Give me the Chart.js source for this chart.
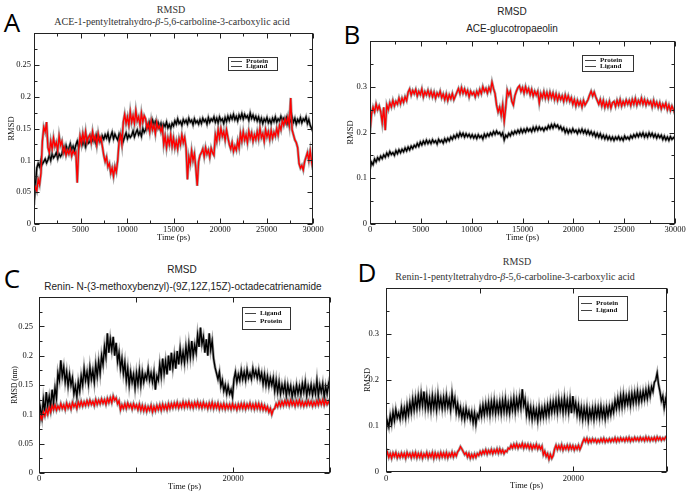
<!DOCTYPE html>
<html>
<head>
<meta charset="utf-8">
<script src="https://cdn.jsdelivr.net/npm/chart.js@4.4.1/dist/chart.umd.min.js"></script>
<style>
  body { margin: 0; background: #fff; }
  #page { position: relative; width: 687px; height: 492px; overflow: hidden; }
  canvas { position: absolute; }
  .txt { position: absolute; transform: translate(-50%, -50%); white-space: nowrap; line-height: 1; }
  .serif { font-family: "Liberation Serif", serif; color: #333; font-size: 10px; }
  .sans { font-family: "Liberation Sans", sans-serif; color: #222; font-size: 10px; }
  .letter { font-family: "Open Sans", sans-serif; font-size: 26px; color: #000; }
</style>
</head>
<body>
<div id="page">
  <div class="txt letter" style="left:12px;top:22px">A</div>
  <div class="txt letter" style="left:352px;top:34px">B</div>
  <div class="txt letter" style="left:12px;top:278px">C</div>
  <div class="txt letter" style="left:367px;top:272px">D</div>

  <div class="txt serif" style="left:171px;top:10px">RMSD</div>
  <div class="txt serif" style="left:172px;top:22px">ACE-1-pentyltetrahydro-<i>β</i>-5,6-carboline-3-carboxylic acid</div>
  <div class="txt sans" style="left:512px;top:12px">RMSD</div>
  <div class="txt sans" style="left:512px;top:29px">ACE-glucotropaeolin</div>
  <div class="txt sans" style="left:182px;top:270px">RMSD</div>
  <div class="txt sans" style="left:183px;top:287px">Renin- N-(3-methoxybenzyl)-(9Z,12Z,15Z)-octadecatrienamide</div>
  <div class="txt serif" style="left:517px;top:262px">RMSD</div>
  <div class="txt serif" style="left:515px;top:277px">Renin-1-pentyltetrahydro-<i>β</i>-5,6-carboline-3-carboxylic acid</div>

  <canvas id="chartA" width="340" height="245" style="left:0;top:0"></canvas>
  <canvas id="chartB" width="342" height="245" style="left:345px;top:0"></canvas>
  <canvas id="chartC" width="340" height="242" style="left:0;top:250px"></canvas>
  <canvas id="chartD" width="342" height="242" style="left:345px;top:250px"></canvas>
</div>
<script>
// RMSD (nm), one value every 150 ps from 0 to 30000 ps (10 values per row = 1500 ps)
const proteinA = [
  0.03, 0.06, 0.088, 0.095, 0.09, 0.1, 0.094, 0.098, 0.102, 0.096,
  0.101, 0.108, 0.1, 0.11, 0.104, 0.107, 0.112, 0.103, 0.11, 0.106,
  0.11, 0.12, 0.114, 0.123, 0.115, 0.119, 0.126, 0.117, 0.122, 0.115,
  0.124, 0.13, 0.121, 0.128, 0.133, 0.125, 0.131, 0.122, 0.134, 0.127,
  0.129, 0.137, 0.131, 0.135, 0.128, 0.139, 0.132, 0.136, 0.13, 0.138,
  0.133, 0.14, 0.135, 0.142, 0.131, 0.138, 0.144, 0.134, 0.141, 0.136,
  0.132, 0.141, 0.135, 0.139, 0.13, 0.137, 0.143, 0.134, 0.14, 0.136,
  0.139, 0.146, 0.137, 0.143, 0.148, 0.14, 0.145, 0.138, 0.15, 0.144,
  0.148, 0.156, 0.151, 0.16, 0.154, 0.163, 0.156, 0.161, 0.153, 0.159,
  0.152, 0.158, 0.149, 0.157, 0.153, 0.16, 0.151, 0.156, 0.15, 0.158,
  0.154, 0.162, 0.157, 0.165, 0.158, 0.161, 0.155, 0.164, 0.159, 0.163,
  0.157, 0.166, 0.16, 0.163, 0.156, 0.165, 0.159, 0.162, 0.157, 0.164,
  0.158, 0.166, 0.161, 0.164, 0.157, 0.167, 0.16, 0.165, 0.162, 0.168,
  0.16, 0.166, 0.159, 0.168, 0.162, 0.165, 0.158, 0.167, 0.161, 0.169,
  0.163, 0.17, 0.165, 0.172, 0.164, 0.169, 0.162, 0.171, 0.166, 0.173,
  0.165, 0.172, 0.167, 0.17, 0.163, 0.174, 0.166, 0.171, 0.164, 0.169,
  0.162, 0.168, 0.16, 0.166, 0.158, 0.165, 0.161, 0.167, 0.159, 0.164,
  0.158, 0.166, 0.161, 0.168, 0.16, 0.165, 0.162, 0.169, 0.163, 0.166,
  0.16, 0.167, 0.158, 0.165, 0.161, 0.168, 0.16, 0.166, 0.157, 0.164,
  0.16, 0.167, 0.159, 0.165, 0.162, 0.168, 0.158, 0.164, 0.155, 0.15,
  0.145
];
const ligandA = [
  0.05, 0.058, 0.052, 0.07, 0.062, 0.08, 0.13, 0.152, 0.145, 0.16,
  0.12, 0.112, 0.13, 0.118, 0.135, 0.122, 0.128, 0.115, 0.138, 0.124,
  0.13, 0.112, 0.12, 0.108, 0.116, 0.11, 0.118, 0.107, 0.115, 0.11,
  0.113, 0.065, 0.118, 0.138, 0.126, 0.142, 0.13, 0.145, 0.128, 0.136,
  0.14, 0.128, 0.145, 0.132, 0.138, 0.124, 0.142, 0.13, 0.136, 0.122,
  0.108, 0.098, 0.105, 0.09, 0.095, 0.08, 0.088, 0.075, 0.09, 0.082,
  0.1, 0.13, 0.14, 0.125, 0.16, 0.172, 0.158, 0.168, 0.155, 0.176,
  0.16, 0.17, 0.158, 0.178, 0.162, 0.168, 0.155, 0.174, 0.16, 0.17,
  0.165, 0.15, 0.158, 0.145, 0.162, 0.148, 0.155, 0.142, 0.16, 0.15,
  0.154, 0.145, 0.152, 0.125, 0.138, 0.12, 0.135, 0.125, 0.14, 0.122,
  0.135, 0.12, 0.13, 0.118, 0.134, 0.125, 0.14, 0.128, 0.136, 0.12,
  0.07, 0.105, 0.095, 0.115, 0.1, 0.11, 0.088, 0.06, 0.098, 0.108,
  0.112, 0.118, 0.106, 0.12, 0.11, 0.116, 0.105, 0.119, 0.112, 0.108,
  0.14, 0.13, 0.148, 0.135, 0.15, 0.138, 0.145, 0.132, 0.148, 0.136,
  0.125, 0.118, 0.128, 0.114, 0.122, 0.116, 0.13, 0.12, 0.142, 0.13,
  0.145, 0.132, 0.14, 0.128, 0.146, 0.135, 0.143, 0.13, 0.14, 0.133,
  0.145, 0.134, 0.15, 0.136, 0.142, 0.13, 0.148, 0.137, 0.145, 0.133,
  0.147, 0.135, 0.144, 0.138, 0.15, 0.14, 0.155, 0.148, 0.162, 0.155,
  0.165, 0.158, 0.168, 0.155, 0.198, 0.148, 0.14, 0.132, 0.128, 0.12,
  0.095, 0.088, 0.092, 0.085, 0.098, 0.105, 0.112, 0.1, 0.115, 0.098,
  0.085
];
const proteinB = [
  0.12, 0.135, 0.13, 0.142, 0.136, 0.145, 0.14, 0.148, 0.143, 0.151,
  0.146, 0.155, 0.149, 0.158, 0.152, 0.156, 0.15, 0.16, 0.154, 0.162,
  0.156, 0.163, 0.158, 0.166, 0.16, 0.168, 0.162, 0.17, 0.165, 0.172,
  0.168, 0.176, 0.17, 0.179, 0.173, 0.181, 0.175, 0.183, 0.176, 0.182,
  0.176, 0.184, 0.178, 0.182, 0.175, 0.185, 0.179, 0.183, 0.177, 0.186,
  0.18, 0.187, 0.182, 0.19, 0.185, 0.193, 0.188, 0.196, 0.19, 0.199,
  0.192, 0.198, 0.19, 0.197, 0.191, 0.196, 0.189, 0.195, 0.188, 0.194,
  0.187, 0.195, 0.189, 0.193, 0.186, 0.196, 0.19, 0.197, 0.192, 0.199,
  0.194, 0.202, 0.196, 0.203, 0.197, 0.2, 0.193, 0.199, 0.184, 0.194,
  0.19, 0.198, 0.193, 0.201, 0.196, 0.203, 0.198, 0.205, 0.199, 0.207,
  0.2, 0.207, 0.201, 0.209, 0.203, 0.208, 0.202, 0.211, 0.204, 0.212,
  0.205, 0.212, 0.206, 0.21, 0.204, 0.211, 0.207, 0.215, 0.209, 0.217,
  0.21, 0.218, 0.212, 0.216, 0.208, 0.213, 0.205, 0.21, 0.2, 0.207,
  0.199, 0.206, 0.2, 0.208, 0.201, 0.205, 0.198, 0.206, 0.2, 0.207,
  0.199, 0.205, 0.197, 0.204, 0.196, 0.202, 0.194, 0.2, 0.191, 0.198,
  0.19, 0.197, 0.188, 0.194, 0.186, 0.193, 0.185, 0.191, 0.184, 0.19,
  0.183, 0.19, 0.185, 0.191, 0.184, 0.189, 0.183, 0.192, 0.186, 0.19,
  0.185, 0.193, 0.188, 0.195, 0.19, 0.197, 0.191, 0.198, 0.192, 0.199,
  0.19, 0.197, 0.19, 0.199, 0.192, 0.198, 0.19, 0.196, 0.188, 0.195,
  0.189, 0.194, 0.185, 0.192, 0.184, 0.19, 0.183, 0.191, 0.185, 0.189,
  0.186
];
const ligandB = [
  0.2, 0.24, 0.255, 0.245, 0.262, 0.25, 0.258, 0.246, 0.222, 0.255,
  0.205, 0.26, 0.25, 0.265, 0.256, 0.27, 0.258, 0.268, 0.262, 0.275,
  0.263, 0.275, 0.266, 0.278, 0.27, 0.288, 0.295, 0.282, 0.292, 0.285,
  0.294, 0.28, 0.29, 0.283, 0.295, 0.278, 0.289, 0.282, 0.292, 0.28,
  0.29, 0.278, 0.288, 0.275, 0.286, 0.28, 0.29, 0.276, 0.284, 0.272,
  0.284, 0.27, 0.282, 0.274, 0.285, 0.272, 0.28, 0.288, 0.296, 0.285,
  0.298, 0.286, 0.295, 0.284, 0.292, 0.278, 0.29, 0.283, 0.288, 0.278,
  0.29, 0.282, 0.294, 0.285, 0.3, 0.29, 0.296, 0.286, 0.298, 0.29,
  0.31, 0.296, 0.285, 0.26, 0.245, 0.255, 0.238, 0.26, 0.225, 0.255,
  0.292, 0.282, 0.29, 0.268, 0.26, 0.28, 0.29, 0.298, 0.302, 0.29,
  0.298, 0.286, 0.3, 0.288, 0.296, 0.283, 0.294, 0.28, 0.29, 0.282,
  0.29, 0.265, 0.285, 0.276, 0.289, 0.275, 0.287, 0.274, 0.288, 0.276,
  0.286, 0.272, 0.284, 0.27, 0.282, 0.272, 0.28, 0.268, 0.282, 0.27,
  0.28, 0.268, 0.276, 0.262, 0.272, 0.258, 0.27, 0.26, 0.268, 0.256,
  0.27, 0.26, 0.266, 0.272, 0.282, 0.29, 0.28, 0.288, 0.278, 0.27,
  0.262, 0.272, 0.258, 0.27, 0.255, 0.266, 0.256, 0.268, 0.254, 0.265,
  0.268, 0.257, 0.27, 0.26, 0.272, 0.258, 0.268, 0.26, 0.271, 0.262,
  0.27, 0.259, 0.272, 0.262, 0.274, 0.26, 0.27, 0.263, 0.275, 0.262,
  0.272, 0.26, 0.27, 0.262, 0.268, 0.256, 0.27, 0.258, 0.266, 0.255,
  0.265, 0.252, 0.262, 0.255, 0.264, 0.25, 0.26, 0.248, 0.258, 0.25,
  0.24
];
const ligandC = [
  0.08, 0.11, 0.095, 0.125, 0.105, 0.138, 0.115, 0.13, 0.112, 0.142,
  0.12, 0.145, 0.128, 0.17, 0.158, 0.192, 0.165, 0.18, 0.155, 0.172,
  0.148, 0.168, 0.15, 0.162, 0.135, 0.148, 0.13, 0.155, 0.14, 0.165,
  0.15, 0.178, 0.158, 0.172, 0.152, 0.18, 0.16, 0.175, 0.155, 0.185,
  0.165, 0.19, 0.17, 0.2, 0.185, 0.215, 0.198, 0.238, 0.205, 0.228,
  0.21, 0.232, 0.2, 0.222, 0.19, 0.205, 0.178, 0.195, 0.17, 0.188,
  0.158, 0.178, 0.15, 0.172, 0.155, 0.168, 0.145, 0.17, 0.152, 0.175,
  0.15, 0.172, 0.155, 0.168, 0.16, 0.178, 0.158, 0.17, 0.155, 0.172,
  0.142, 0.165, 0.158, 0.185, 0.165, 0.195, 0.17, 0.19, 0.168, 0.2,
  0.175, 0.205, 0.18, 0.2, 0.178, 0.208, 0.185, 0.212, 0.19, 0.206,
  0.188, 0.215, 0.195, 0.22, 0.198, 0.225, 0.2, 0.218, 0.205, 0.235,
  0.215, 0.248, 0.22, 0.232, 0.205, 0.228, 0.2, 0.238, 0.21, 0.225,
  0.195, 0.18, 0.17, 0.16, 0.172, 0.148, 0.158, 0.14, 0.15, 0.135,
  0.148, 0.135, 0.142, 0.13, 0.16, 0.172, 0.155, 0.168, 0.158, 0.175,
  0.16, 0.172, 0.158, 0.176, 0.162, 0.17, 0.16, 0.178, 0.165, 0.174,
  0.162, 0.175, 0.16, 0.17, 0.152, 0.168, 0.15, 0.165, 0.148, 0.162,
  0.15, 0.162, 0.14, 0.158, 0.138, 0.155, 0.135, 0.15, 0.138, 0.152,
  0.132, 0.15, 0.136, 0.148, 0.13, 0.145, 0.133, 0.15, 0.135, 0.148,
  0.134, 0.152, 0.138, 0.155, 0.132, 0.148, 0.136, 0.15, 0.133, 0.148,
  0.135, 0.158, 0.132, 0.15, 0.138, 0.152, 0.13, 0.148, 0.135, 0.152,
  0.14
];
const proteinC = [
  0.085, 0.098, 0.092, 0.104, 0.097, 0.108, 0.1, 0.112, 0.104, 0.115,
  0.108, 0.116, 0.107, 0.114, 0.109, 0.118, 0.11, 0.116, 0.108, 0.119,
  0.111, 0.117, 0.109, 0.12, 0.113, 0.118, 0.11, 0.121, 0.114, 0.122,
  0.114, 0.121, 0.115, 0.123, 0.116, 0.124, 0.117, 0.122, 0.115, 0.125,
  0.117, 0.124, 0.118, 0.126, 0.119, 0.125, 0.117, 0.127, 0.12, 0.128,
  0.12, 0.131, 0.124, 0.128, 0.118, 0.123, 0.108, 0.116, 0.11, 0.118,
  0.11, 0.119, 0.112, 0.117, 0.109, 0.118, 0.111, 0.116, 0.108, 0.117,
  0.107, 0.115, 0.106, 0.114, 0.105, 0.113, 0.107, 0.115, 0.104, 0.113,
  0.106, 0.115, 0.108, 0.116, 0.107, 0.117, 0.109, 0.116, 0.108, 0.118,
  0.11, 0.118, 0.111, 0.119, 0.112, 0.12, 0.111, 0.118, 0.112, 0.121,
  0.112, 0.12, 0.113, 0.121, 0.112, 0.119, 0.111, 0.12, 0.113, 0.121,
  0.112, 0.119, 0.111, 0.12, 0.112, 0.118, 0.11, 0.119, 0.111, 0.12,
  0.11, 0.118, 0.111, 0.119, 0.109, 0.117, 0.11, 0.118, 0.109, 0.117,
  0.11, 0.117, 0.109, 0.118, 0.11, 0.116, 0.108, 0.117, 0.11, 0.118,
  0.11, 0.118, 0.109, 0.117, 0.111, 0.119, 0.11, 0.117, 0.109, 0.118,
  0.11, 0.118, 0.109, 0.117, 0.108, 0.115, 0.107, 0.113, 0.104, 0.11,
  0.1, 0.108, 0.11, 0.118, 0.113, 0.121, 0.114, 0.122, 0.115, 0.123,
  0.116, 0.123, 0.115, 0.124, 0.116, 0.122, 0.114, 0.123, 0.116, 0.124,
  0.115, 0.122, 0.114, 0.121, 0.115, 0.123, 0.116, 0.122, 0.114, 0.121,
  0.115, 0.123, 0.116, 0.124, 0.117, 0.125, 0.116, 0.124, 0.117, 0.122,
  0.116
];
const proteinD = [
  0.09, 0.11, 0.098, 0.122, 0.105, 0.13, 0.112, 0.135, 0.118, 0.128,
  0.115, 0.14, 0.12, 0.138, 0.118, 0.145, 0.125, 0.15, 0.13, 0.158,
  0.135, 0.16, 0.138, 0.165, 0.142, 0.17, 0.145, 0.175, 0.14, 0.165,
  0.138, 0.16, 0.135, 0.165, 0.14, 0.162, 0.135, 0.168, 0.142, 0.16,
  0.138, 0.162, 0.14, 0.166, 0.142, 0.158, 0.135, 0.17, 0.145, 0.16,
  0.13, 0.148, 0.125, 0.14, 0.118, 0.135, 0.115, 0.138, 0.12, 0.132,
  0.115, 0.13, 0.108, 0.128, 0.104, 0.125, 0.118, 0.14, 0.122, 0.145,
  0.125, 0.148, 0.128, 0.15, 0.125, 0.152, 0.13, 0.155, 0.128, 0.15,
  0.13, 0.152, 0.128, 0.155, 0.132, 0.158, 0.13, 0.15, 0.128, 0.155,
  0.135, 0.16, 0.132, 0.158, 0.138, 0.162, 0.14, 0.18, 0.145, 0.158,
  0.125, 0.145, 0.12, 0.14, 0.115, 0.138, 0.118, 0.135, 0.112, 0.14,
  0.118, 0.138, 0.12, 0.142, 0.122, 0.145, 0.125, 0.15, 0.13, 0.152,
  0.132, 0.155, 0.13, 0.158, 0.135, 0.155, 0.13, 0.16, 0.133, 0.155,
  0.13, 0.158, 0.128, 0.165, 0.135, 0.15, 0.125, 0.145, 0.12, 0.14,
  0.115, 0.138, 0.118, 0.14, 0.112, 0.135, 0.118, 0.138, 0.115, 0.14,
  0.12, 0.14, 0.118, 0.142, 0.12, 0.138, 0.116, 0.14, 0.122, 0.142,
  0.125, 0.145, 0.13, 0.155, 0.138, 0.16, 0.14, 0.165, 0.142, 0.168,
  0.145, 0.165, 0.148, 0.168, 0.145, 0.17, 0.15, 0.172, 0.152, 0.175,
  0.152, 0.172, 0.155, 0.175, 0.158, 0.178, 0.16, 0.182, 0.165, 0.185,
  0.175, 0.195, 0.2, 0.215, 0.19, 0.175, 0.155, 0.165, 0.14, 0.158,
  0.14
];
const ligandD = [
  0.035, 0.043, 0.032, 0.04, 0.03, 0.041, 0.034, 0.042, 0.031, 0.039,
  0.032, 0.041, 0.033, 0.04, 0.03, 0.042, 0.034, 0.04, 0.031, 0.041,
  0.033, 0.042, 0.031, 0.04, 0.032, 0.041, 0.03, 0.039, 0.033, 0.042,
  0.031, 0.04, 0.033, 0.042, 0.03, 0.041, 0.032, 0.04, 0.031, 0.042,
  0.033, 0.041, 0.032, 0.042, 0.031, 0.04, 0.034, 0.043, 0.033, 0.041,
  0.035, 0.044, 0.048, 0.055, 0.05, 0.044, 0.038, 0.042, 0.033, 0.04,
  0.03, 0.038, 0.031, 0.039, 0.032, 0.04, 0.036, 0.044, 0.038, 0.046,
  0.04, 0.048, 0.039, 0.047, 0.041, 0.049, 0.04, 0.048, 0.042, 0.05,
  0.041, 0.05, 0.042, 0.048, 0.04, 0.046, 0.044, 0.052, 0.05, 0.058,
  0.052, 0.06, 0.053, 0.061, 0.052, 0.059, 0.054, 0.062, 0.052, 0.06,
  0.053, 0.06, 0.051, 0.059, 0.05, 0.058, 0.052, 0.06, 0.05, 0.057,
  0.05, 0.056, 0.038, 0.045, 0.034, 0.04, 0.028, 0.038, 0.03, 0.036,
  0.05, 0.058, 0.049, 0.057, 0.05, 0.059, 0.048, 0.056, 0.05, 0.058,
  0.049, 0.058, 0.05, 0.057, 0.048, 0.056, 0.05, 0.058, 0.049, 0.056,
  0.065, 0.072, 0.066, 0.073, 0.064, 0.071, 0.065, 0.072, 0.066, 0.071,
  0.064, 0.07, 0.065, 0.072, 0.066, 0.073, 0.065, 0.071, 0.066, 0.072,
  0.066, 0.072, 0.067, 0.074, 0.066, 0.073, 0.067, 0.074, 0.068, 0.073,
  0.067, 0.074, 0.068, 0.075, 0.067, 0.073, 0.068, 0.075, 0.069, 0.074,
  0.068, 0.075, 0.069, 0.074, 0.068, 0.076, 0.069, 0.075, 0.068, 0.074,
  0.069, 0.075, 0.068, 0.076, 0.07, 0.075, 0.069, 0.074, 0.07, 0.076,
  0.074
];
const timePs = proteinA.map((_, i) => i * 150);

const serif = "Liberation Serif";
const RED = "#ff0000";
const BLACK = "#000000";

// xmgrace style: frame, inward ticks on all four sides, boxed legend
const graceFrame = {
  id: "graceFrame",
  afterDatasetsDraw(chart, args, o) {
    const { ctx, chartArea: a, scales: { x, y } } = chart;
    const L = Math.round(a.left) + 0.5, R = Math.round(a.right) - 0.5;
    const T = Math.round(a.top) + 0.5, B = Math.round(a.bottom) - 0.5;
    ctx.save();
    ctx.strokeStyle = "#222";
    ctx.lineWidth = 1;
    ctx.strokeRect(L, T, R - L, B - T);

    ctx.beginPath();
    for (let v = 0; v <= x.max + 1e-6; v += o.xMinor) {
      const len = Math.abs(v / o.xMajor - Math.round(v / o.xMajor)) < 1e-6 ? 5 : 3;
      const px = Math.round(x.getPixelForValue(v)) + 0.5;
      ctx.moveTo(px, B); ctx.lineTo(px, B - len);
      ctx.moveTo(px, T); ctx.lineTo(px, T + len);
    }
    for (let v = 0; v <= y.max + 1e-9; v += o.yMinor) {
      const len = Math.abs(v / o.yMajor - Math.round(v / o.yMajor)) < 1e-6 ? 5 : 3;
      const py = Math.round(y.getPixelForValue(v)) + 0.5;
      ctx.moveTo(L, py); ctx.lineTo(L + len, py);
      ctx.moveTo(R, py); ctx.lineTo(R - len, py);
    }
    ctx.stroke();

    // legend box
    const lg = o.legend;
    ctx.fillStyle = "#fff";
    ctx.fillRect(lg.x, lg.y, lg.w, lg.h);
    ctx.strokeStyle = "#333";
    ctx.strokeRect(lg.x + 0.5, lg.y + 0.5, lg.w, lg.h);
    ctx.font = "bold 7px " + serif;
    ctx.textBaseline = "middle";
    ctx.textAlign = "left";
    lg.names.forEach((name, i) => {
      const ry = lg.y + lg.rows[i];
      ctx.strokeStyle = "#444";
      ctx.beginPath();
      ctx.moveTo(lg.x + 3, ry + 0.5);
      ctx.lineTo(lg.x + 14, ry + 0.5);
      ctx.stroke();
      ctx.fillStyle = "#111";
      ctx.fillText(name, lg.x + 18, ry + 0.5);
    });
    ctx.restore();
  }
};

function trace(values, color, order) {
  const pts = values.map((v, i) => ({ x: timePs[i], y: v }));
  return [
    { data: pts, borderColor: color, borderWidth: 1.4, order: order },
    { data: pts, borderColor: "rgba(85,85,85,0.55)", borderWidth: 2.8, order: order + 1 }
  ];
}

function makePanel(id, p) {
  const tickFont = { family: serif, size: 8.5 };
  new Chart(document.getElementById(id), {
    type: "line",
    data: { datasets: [...trace(p.front, RED, 0), ...trace(p.back, BLACK, 2)] },
    options: {
      responsive: false,
      animation: false,
      events: [],
      elements: { point: { radius: 0 }, line: { tension: 0 } },
      layout: { padding: { left: 0, top: p.top, right: p.right, bottom: 0 } },
      plugins: {
        legend: { display: false },
        tooltip: { enabled: false },
        graceFrame: { xMajor: p.xMajor, xMinor: p.xMinor, yMajor: p.yMajor, yMinor: p.yMinor, legend: p.legend }
      },
      scales: {
        x: {
          type: "linear", min: 0, max: 30000,
          grid: { display: false, drawTicks: false },
          border: { display: false },
          ticks: {
            stepSize: p.xMajor, padding: p.xPad, font: tickFont, color: "#111",
            maxRotation: 0, autoSkip: false,
            callback: v => (p.xShow.includes(v) ? String(v) : "")
          },
          title: { display: true, text: "Time (ps)", font: tickFont, color: "#111", padding: { top: 0, bottom: p.xTitlePad } },
          afterFit: s => { s.height = p.xH; }
        },
        y: {
          min: 0, max: p.yMax,
          grid: { display: false, drawTicks: false },
          border: { display: false },
          ticks: {
            stepSize: p.yMajor, padding: p.yPad, font: tickFont, color: "#111",
            callback: v => (v >= p.yMax - 1e-9 ? "" : String(Math.round(v * 1000) / 1000))
          },
          title: { display: true, text: p.yTitle, font: { family: serif, size: p.yTitleSize }, color: "#111", padding: { top: p.yTitlePad, bottom: 0 } },
          afterFit: s => { s.width = p.yW; }
        }
      }
    },
    plugins: [graceFrame]
  });
}

const labelsAll = [0, 5000, 10000, 15000, 20000, 25000, 30000];
const labelsSparse = [0, 20000];

makePanel("chartA", {
  front: ligandA, back: proteinA, yTitle: "RMSD", yMax: 0.3, yTitleSize: 8.5,
  top: 33, right: 27, yW: 34, xH: 21, xPad: 1, yPad: 3, xTitlePad: 2, yTitlePad: 7,
  xMajor: 5000, xMinor: 2500, yMajor: 0.05, yMinor: 0.025, xShow: labelsAll,
  legend: { x: 228, y: 57, w: 49, h: 13, rows: [4, 9], names: ["Protein", "Ligand"] }
});
makePanel("chartB", {
  front: ligandB, back: proteinB, yTitle: "RMSD", yMax: 0.4, yTitleSize: 8.5,
  top: 41, right: 12, yW: 25, xH: 21, xPad: 1, yPad: 3, xTitlePad: 2, yTitlePad: 1,
  xMajor: 5000, xMinor: 2500, yMajor: 0.1, yMinor: 0.05, xShow: labelsAll,
  legend: { x: 237, y: 55, w: 51, h: 16, rows: [5, 11], names: ["Protein", "Ligand"] }
});
makePanel("chartC", {
  front: proteinC, back: ligandC, yTitle: "RMSD (nm)", yMax: 0.3, yTitleSize: 7.5,
  top: 47, right: 10, yW: 39, xH: 19, xPad: 1, yPad: 6, xTitlePad: 0, yTitlePad: 11,
  xMajor: 10000, xMinor: 10000, yMajor: 0.05, yMinor: 0.025, xShow: labelsSparse,
  legend: { x: 242, y: 57, w: 48, h: 22, rows: [6, 14], names: ["Ligand", "Protein"] }
});
makePanel("chartD", {
  front: ligandD, back: proteinD, yTitle: "RMSD", yMax: 0.4, yTitleSize: 8.5,
  top: 38, right: 20, yW: 41, xH: 20, xPad: 2, yPad: 7, xTitlePad: 1, yTitlePad: 18,
  xMajor: 10000, xMinor: 10000, yMajor: 0.1, yMinor: 0.05, xShow: labelsSparse,
  legend: { x: 233, y: 46, w: 49, h: 24, rows: [7, 14], names: ["Protein", "Ligand"] }
});
</script>
</body>
</html>
